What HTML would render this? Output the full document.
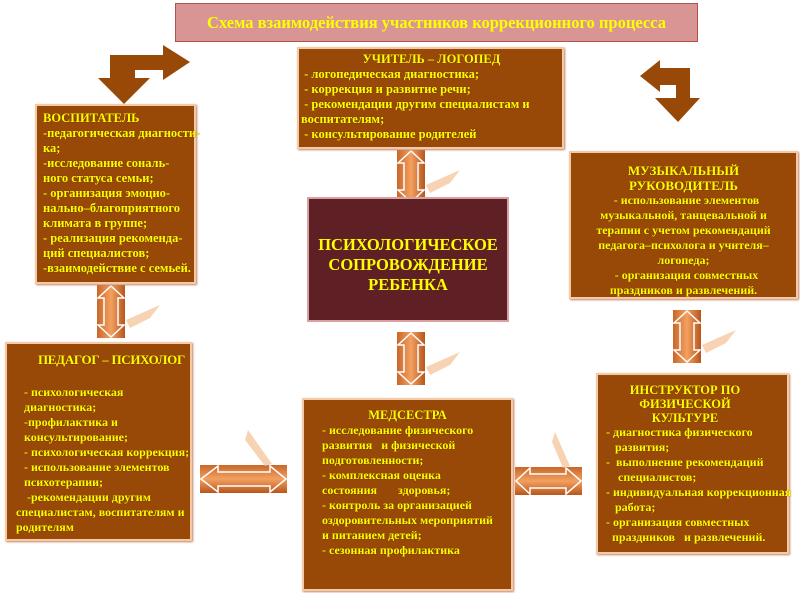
<!DOCTYPE html>
<html><head><meta charset="utf-8"><style>
body{margin:0;width:800px;height:593px;background:#fff;position:relative;overflow:hidden;font-family:"Liberation Serif",serif;}
.b{position:absolute;background:#984807;border:2px solid #f4c9a6;box-shadow:1px 1px 2px #c08060;color:#ffff00;font-weight:bold;font-size:12.5px;line-height:15px;box-sizing:border-box;white-space:nowrap;text-shadow:0 0 1px #5a2a00;}
.t{position:absolute;left:175px;top:3px;width:523px;height:39px;background:#d99594;border:1px solid #b0504f;box-sizing:border-box;color:#ffff00;font-weight:bold;font-size:16.5px;text-align:center;line-height:37px;}
.c{position:absolute;left:307px;top:197px;width:202px;height:125px;background:#5f2025;border:2px solid #d9a0a0;box-sizing:border-box;color:#ffff00;font-weight:bold;font-size:16.5px;line-height:20px;text-align:center;padding-top:36px;}
svg{position:absolute;left:0;top:0}
</style></head><body>
<svg width="800" height="593">
<defs><linearGradient id="g" x1="0" x2="1"><stop offset="0" stop-color="#c9672a"/><stop offset=".5" stop-color="#f2a060"/><stop offset="1" stop-color="#b8561c"/></linearGradient>
<linearGradient id="h" x1="0" y1="0" x2="0" y2="1"><stop offset="0" stop-color="#c9672a"/><stop offset=".5" stop-color="#f2a060"/><stop offset="1" stop-color="#b8561c"/></linearGradient></defs>
<polygon points="98,78 110,78 110,55 163,55 163,45 190,62 163,80 163,70 135,70 135,78 150,78 124,104" fill="#984807"/>
<polygon points="655,98 676,98 676,85 660,85 660,92 640,76 660,60 660,68 690,68 690,98 700,98 678,122" fill="#984807"/>
<g id="v">
<rect x="97" y="285" width="28" height="53" fill="url(#g)"/>
<polygon points="111,286 124,298 118,298 118,325 124,325 111,337 98,325 104,325 104,298 98,298" fill="none" stroke="#fff" stroke-width="1.5"/>
<polygon points="126,320 160,305 150,318 130,328" fill="#f6c8a0" opacity=".8"/>
</g>
<g transform="translate(300,-135)">
<rect x="97" y="285" width="28" height="53" fill="url(#g)"/>
<polygon points="111,286 124,298 118,298 118,325 124,325 111,337 98,325 104,325 104,298 98,298" fill="none" stroke="#fff" stroke-width="1.5"/>
<polygon points="126,320 160,305 150,318 130,328" fill="#f6c8a0" opacity=".8"/>
</g>
<g transform="translate(300,47)">
<rect x="97" y="285" width="28" height="53" fill="url(#g)"/>
<polygon points="111,286 124,298 118,298 118,325 124,325 111,337 98,325 104,325 104,298 98,298" fill="none" stroke="#fff" stroke-width="1.5"/>
<polygon points="126,320 160,305 150,318 130,328" fill="#f6c8a0" opacity=".8"/>
</g>
<g transform="translate(576,25)">
<rect x="97" y="285" width="28" height="53" fill="url(#g)"/>
<polygon points="111,286 124,298 118,298 118,325 124,325 111,337 98,325 104,325 104,298 98,298" fill="none" stroke="#fff" stroke-width="1.5"/>
<polygon points="126,320 160,305 150,318 130,328" fill="#f6c8a0" opacity=".8"/>
</g>
<rect x="200" y="465" width="87" height="28" fill="url(#h)"/>
<polygon points="201,479 218,466 218,472 270,472 270,466 286,479 270,492 270,486 218,486 218,492" fill="none" stroke="#fff" stroke-width="1.5"/>
<polygon points="272,464 248,430 245,440 265,466" fill="#f6c8a0" opacity=".8"/>
<rect x="515" y="467" width="67" height="28" fill="url(#h)"/>
<polygon points="516,481 530,468 530,474 566,474 566,468 581,481 566,494 566,488 530,488 530,494" fill="none" stroke="#fff" stroke-width="1.5"/>
<polygon points="570,466 555,432 552,442 563,468" fill="#f6c8a0" opacity=".8"/>
</svg>
<div class="t">Схема взаимодействия участников коррекционного процесса</div>
<div class="b" style="left:297px;top:47px;width:267px;height:102px;padding:3px 0 0 2px;"><div style="text-align:center">УЧИТЕЛЬ – ЛОГОПЕД</div>&nbsp;- логопедическая диагностика;<br>&nbsp;- коррекция и развитие речи;<br>&nbsp;- рекомендации другим специалистам и<br>воспитателям;<br>&nbsp;- консультирование родителей</div>
<div class="b" style="left:35px;top:104px;width:161px;height:180px;padding:5px 0 0 6px;">ВОСПИТАТЕЛЬ<br>-педагогическая диагности-<br>ка;<br>-исследование сональ-<br>ного статуса семьи;<br>- организация эмоцио-<br>нально–благоприятного<br>климата в группе;<br>- реализация рекоменда-<br>ций специалистов;<br>-взаимодействие с семьей.</div>
<div class="c">ПСИХОЛОГИЧЕСКОЕ<br>СОПРОВОЖДЕНИЕ<br>РЕБЕНКА</div>
<div class="b" style="left:569px;top:151px;width:229px;height:148px;padding:10px 0 0;text-align:center;font-size:12px;"><div style="font-size:13px;line-height:15px">МУЗЫКАЛЬНЫЙ<br>РУКОВОДИТЕЛЬ</div>&nbsp; - использование элементов<br>музыкальной, танцевальной и<br>терапии с учетом рекомендаций<br>педагога–психолога и учителя–<br>логопеда;<br>&nbsp; - организация совместных<br>праздников и развлечений.</div>
<div class="b" style="left:5px;top:342px;width:187px;height:199px;padding:8px 0 0 9px;font-size:12px;"><div style="font-size:13px;padding-left:22px;letter-spacing:-0.3px">ПЕДАГОГ – ПСИХОЛОГ</div><div style="height:18px"></div><div style="padding-left:8px">- психологическая<br>диагностика;<br>-профилактика и<br>консультирование;<br>- психологическая коррекция;<br>- использование элементов<br>психотерапии;<br>&nbsp;-рекомендации другим</div>специалистам, воспитателям и<br>родителям</div>
<div class="b" style="left:302px;top:398px;width:211px;height:193px;padding:8px 0 0 18px;font-size:12px;"><div style="text-align:center;padding-right:18px;font-size:12.5px">МЕДСЕСТРА</div>- исследование физического<br>развития &nbsp; и физической<br>подготовленности;<br>- комплексная оценка<br>состояния &nbsp; &nbsp; &nbsp; здоровья;<br>- контроль за организацией<br>оздоровительных мероприятий<br>и питанием детей;<br>- сезонная профилактика</div>
<div class="b" style="left:596px;top:373px;width:193px;height:181px;padding:8px 0 0 8px;font-size:12px;"><div style="padding-left:14px;text-align:center;width:130px;font-size:12.5px;line-height:14px">ИНСТРУКТОР ПО<br>ФИЗИЧЕСКОЙ<br>КУЛЬТУРЕ</div>- диагностика физического<br>&nbsp;&nbsp; развития;<br>- &nbsp;выполнение рекомендаций<br>&nbsp;&nbsp;&nbsp; специалистов;<br>- индивидуальная коррекционная<br>&nbsp;&nbsp; работа;<br>- организация совместных<br>&nbsp; праздников &nbsp; и развлечений.</div>
</body></html>
